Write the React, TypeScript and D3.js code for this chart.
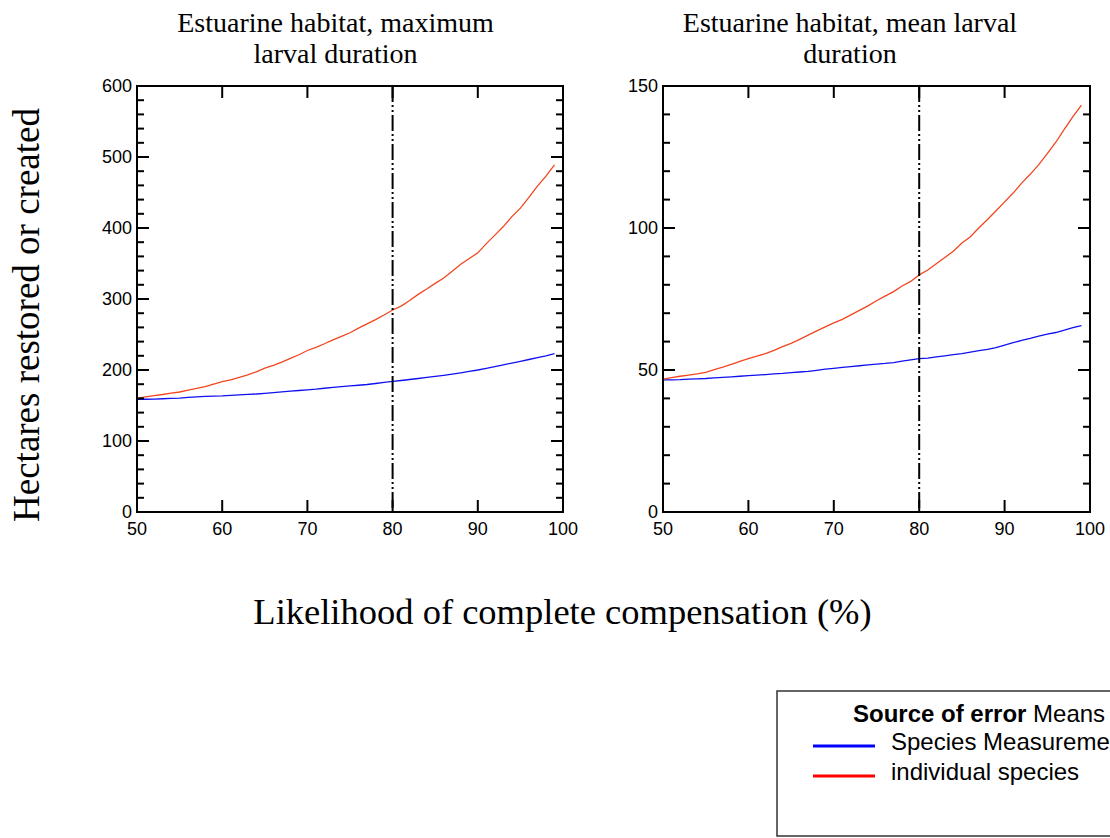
import React from "react";
import * as d3 from "d3";

const likelihood: number[] = d3.range(50, 100);

const maxIndividual: number[] = [
  160, 162, 164, 165.5, 167.5, 169, 171.5, 174, 176.5, 180,
  183.5, 186, 189.5, 193, 197.5, 202.5, 206.5, 211, 216.5, 221.5,
  227.5, 232, 237, 242.5, 247.5, 252.5, 259, 265, 271, 277.5,
  284.5, 290, 298, 306.5, 314, 322, 329.5, 339, 349, 357,
  365, 378, 390, 402, 416, 428, 443, 459, 473, 489,
];
const maxMeasurement: number[] = [
  158.5, 158.8, 159, 159.5, 160, 160.5, 161.5, 162.2, 162.8, 163.2,
  163.6, 164.4, 165.1, 165.6, 166.2, 167.1, 168.1, 169.1, 170.2, 171.1,
  172, 173, 174.3, 175.4, 176.5, 177.5, 178.5, 179.6, 181, 182.5,
  184, 185.2, 186.6, 188, 189.5, 191, 192.5, 194.2, 196, 198,
  200, 202.4, 204.8, 207.3, 209.8, 212.3, 214.8, 217.4, 220, 223,
];
const meanIndividual: number[] = [
  46.8, 47.3, 47.8, 48.2, 48.6, 49.2, 50.1, 51.0, 52.0, 53.0,
  54.0, 54.9, 55.8, 56.9, 58.2, 59.4, 60.8, 62.3, 63.8, 65.2,
  66.6, 67.8, 69.4, 71.0, 72.6, 74.4, 76.0, 77.6, 79.6, 81.2,
  83.5, 85.2, 87.4, 89.6, 91.8, 94.7, 96.9, 100.1, 103.0, 106.1,
  109.2, 112.3, 115.8, 118.9, 122.3, 126.2, 130.2, 134.8, 139.2, 143.3,
];
const meanMeasurement: number[] = [
  46.5, 46.5, 46.6, 46.8, 46.9, 47.0, 47.2, 47.4, 47.6, 47.8,
  48.0, 48.2, 48.4, 48.6, 48.8, 49.1, 49.3, 49.5, 49.9, 50.3,
  50.6, 50.9, 51.2, 51.5, 51.8, 52.1, 52.3, 52.6, 53.1, 53.6,
  54.0, 54.2, 54.6, 55.0, 55.4, 55.8, 56.3, 56.8, 57.3, 57.9,
  58.8, 59.6, 60.4, 61.1, 61.9, 62.6, 63.2, 64.0, 64.9, 65.6,
];

const xTicks: number[] = [50, 60, 70, 80, 90, 100];
const leftYTicks: number[] = [0, 100, 200, 300, 400, 500, 600];
const rightYTicks: number[] = [0, 50, 100, 150];
const thresholdX = 80;

const titles: string[][] = [
  ["Estuarine habitat, maximum", "larval duration"],
  ["Estuarine habitat, mean larval", "duration"],
];
const legendTitleBold = "Source of error";
const legendTitleRest = " Means";
const legendLabels: string[] = ["Species Measureme", "individual species"];

const RED = "#f2461f";
const BLUE = "#1010f0";

interface PanelProps {
  x0: number;
  x1: number;
  y0: number;
  y1: number;
  yMax: number;
  yTicks: number[];
  minorStep: number;
  individual: number[];
  measurement: number[];
  title: string[];
  titleCx: number;
}

function Panel(p: PanelProps) {
  const xs = d3.scaleLinear().domain([50, 100]).range([p.x0, p.x1]);
  const ys = d3.scaleLinear().domain([0, p.yMax]).range([p.y1, p.y0]);
  const minor = d3.range(0, p.yMax + 0.001, p.minorStep).filter((v) => !p.yTicks.includes(v));
  const line = d3
    .line<number>()
    .x((_, i) => xs(likelihood[i]))
    .y((d) => ys(d));
  const tickFont = { fontFamily: "Liberation Sans, Arial, sans-serif", fontSize: 18 };
  return (
    <g>
      {p.title.map((t, i) => (
        <text
          key={i}
          x={p.titleCx}
          y={32 + i * 31}
          textAnchor="middle"
          style={{ fontFamily: "Liberation Serif, Times New Roman, serif", fontSize: 28 }}
          fill="#000"
        >
          {t}
        </text>
      ))}
      <path d={line(p.measurement) || ""} fill="none" stroke={BLUE} strokeWidth={1.3} />
      <path d={line(p.individual) || ""} fill="none" stroke={RED} strokeWidth={1.3} />
      <line
        x1={xs(thresholdX)}
        x2={xs(thresholdX)}
        y1={p.y0}
        y2={p.y1}
        stroke="#000"
        strokeWidth={2}
        strokeDasharray="16,3,2,3,2,3"
      />
      <rect x={p.x0} y={p.y0} width={p.x1 - p.x0} height={p.y1 - p.y0} fill="none" stroke="#000" strokeWidth={2} />
      {p.yTicks.map((v) => (
        <g key={"y" + v}>
          <line x1={p.x0} x2={p.x0 + 12} y1={ys(v)} y2={ys(v)} stroke="#000" strokeWidth={2} />
          <line x1={p.x1} x2={p.x1 - 12} y1={ys(v)} y2={ys(v)} stroke="#000" strokeWidth={2} />
          <text x={p.x0 - 5} y={ys(v)} dy="0.36em" textAnchor="end" style={tickFont} fill="#000">
            {v}
          </text>
        </g>
      ))}
      {minor.map((v) => (
        <g key={"m" + v}>
          <line x1={p.x0} x2={p.x0 + 7} y1={ys(v)} y2={ys(v)} stroke="#000" strokeWidth={2} />
          <line x1={p.x1} x2={p.x1 - 7} y1={ys(v)} y2={ys(v)} stroke="#000" strokeWidth={2} />
        </g>
      ))}
      {xTicks.map((v) => (
        <g key={"x" + v}>
          <line x1={xs(v)} x2={xs(v)} y1={p.y1} y2={p.y1 - 12} stroke="#000" strokeWidth={2} />
          <line x1={xs(v)} x2={xs(v)} y1={p.y0} y2={p.y0 + 12} stroke="#000" strokeWidth={2} />
          <text x={xs(v)} y={p.y1 + 23} textAnchor="middle" style={tickFont} fill="#000">
            {v}
          </text>
        </g>
      ))}
    </g>
  );
}

export default function App() {
  const serif = "Liberation Serif, Times New Roman, serif";
  const sans = "Liberation Sans, Arial, sans-serif";
  return (
    <svg
      width={1110}
      height={838}
      style={{ position: "absolute", left: 0, top: 0, background: "#fff", overflow: "hidden" }}
    >
      <rect x={0} y={0} width={1110} height={838} fill="#fff" />
      <Panel
        x0={137}
        x1={563}
        y0={86}
        y1={512}
        yMax={600}
        yTicks={leftYTicks}
        minorStep={20}
        individual={maxIndividual}
        measurement={maxMeasurement}
        title={titles[0]}
        titleCx={335.5}
      />
      <Panel
        x0={663}
        x1={1090}
        y0={86}
        y1={512}
        yMax={150}
        yTicks={rightYTicks}
        minorStep={10}
        individual={meanIndividual}
        measurement={meanMeasurement}
        title={titles[1]}
        titleCx={850}
      />
      <text
        transform="translate(39,315) rotate(-90)"
        textAnchor="middle"
        style={{ fontFamily: serif, fontSize: 37 }}
        fill="#000"
      >
        Hectares restored or created
      </text>
      <text x={562.5} y={624} textAnchor="middle" style={{ fontFamily: serif, fontSize: 36.5 }} fill="#000">
        Likelihood of complete compensation (%)
      </text>
      <rect x={777} y={691} width={360} height={145} fill="#fff" stroke="#333" strokeWidth={1.5} />
      <text x={853} y={721.5} style={{ fontFamily: sans, fontSize: 24 }} fill="#000">
        <tspan fontWeight="bold">{legendTitleBold}</tspan>
        <tspan>{legendTitleRest}</tspan>
      </text>
      {legendLabels.map((l, i) => (
        <g key={l}>
          <line
            x1={813}
            x2={875}
            y1={746 + i * 30}
            y2={746 + i * 30}
            stroke={i === 0 ? "#0000ff" : "#ff0000"}
            strokeWidth={3}
          />
          <text x={891} y={750 + i * 30} style={{ fontFamily: sans, fontSize: 24 }} fill="#000">
            {l}
          </text>
        </g>
      ))}
    </svg>
  );
}
